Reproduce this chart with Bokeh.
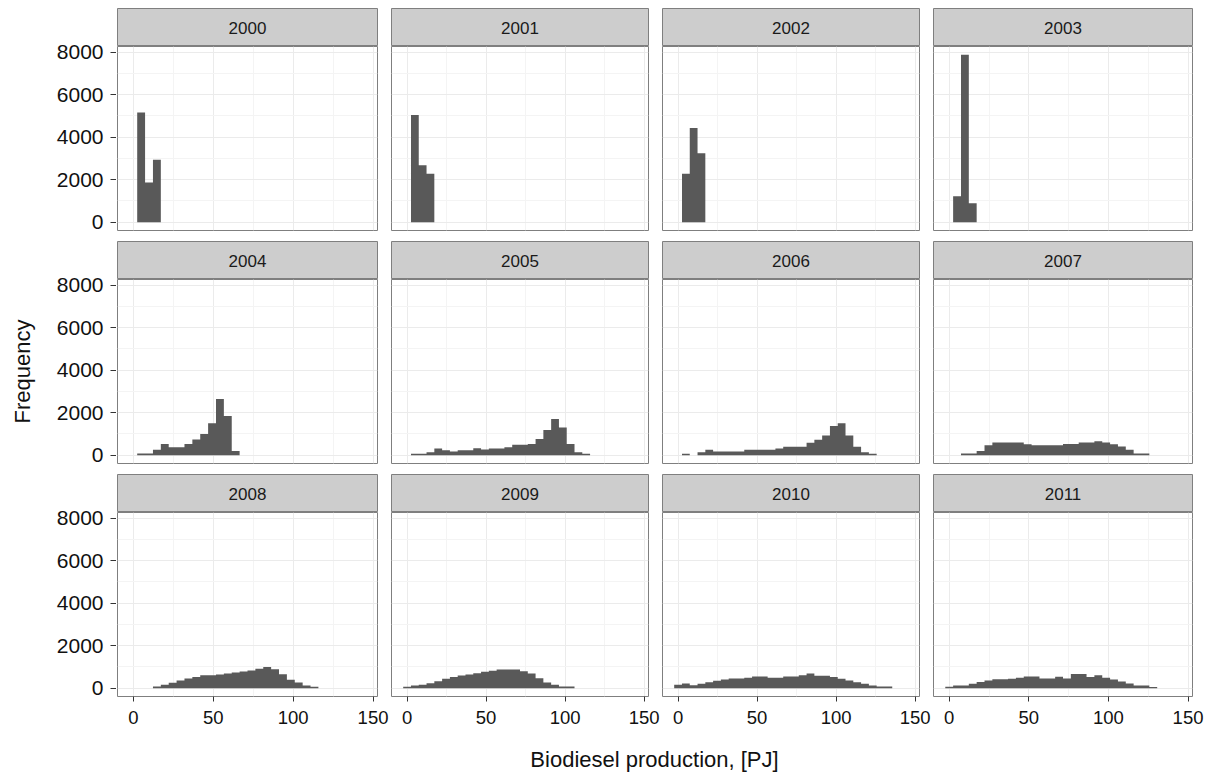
import math
from bokeh.plotting import figure
from bokeh.layouts import row, column
from bokeh.models import Range1d, FixedTicker
from bokeh.core.properties import value
from bokeh.embed import file_html
from bokeh.resources import INLINE

# ---------------- data (histogram counts per year, bin 0 first) ----------------
years = [2000, 2001, 2002, 2003, 2004, 2005, 2006, 2007, 2008, 2009, 2010, 2011]
bin_start = -2.5
bin_width = 4.93
n_bins = 30

counts_2000 = [0, 5160, 1870, 2940]
counts_2001 = [0, 5050, 2680, 2280]
counts_2002 = [0, 2280, 4440, 3250]
counts_2003 = [0, 1220, 7880, 890]
counts_2004 = [0, 80, 80, 250, 530, 375, 375, 530, 735, 1000, 1500, 2640, 1840, 200]
counts_2005 = [0, 60, 60, 140, 310, 235, 170, 235, 235, 330, 265, 310, 310, 375, 485,
               485, 530, 765, 1190, 1700, 1300, 530, 140, 60]
counts_2006 = [0, 60, 0, 140, 250, 170, 170, 170, 170, 250, 250, 250, 250, 310, 390,
               390, 390, 580, 720, 920, 1375, 1500, 920, 390, 140, 60]
counts_2007 = [0, 0, 80, 80, 190, 470, 595, 595, 595, 595, 515, 470, 470, 470, 470,
               530, 530, 595, 595, 655, 595, 515, 405, 250, 80, 80]
counts_2008 = [0, 0, 0, 80, 155, 250, 360, 455, 520, 610, 610, 640, 690, 735, 785,
               830, 910, 1000, 895, 660, 390, 265, 125, 60]
counts_2009 = [60, 125, 155, 235, 330, 440, 520, 595, 640, 705, 770, 815, 880, 880,
               880, 800, 690, 470, 265, 155, 80, 80]
counts_2010 = [155, 220, 140, 205, 280, 345, 410, 455, 455, 485, 550, 550, 485, 485,
               550, 550, 610, 690, 580, 580, 520, 440, 360, 280, 205, 125, 80, 80]
counts_2011 = [70, 130, 130, 210, 285, 360, 420, 420, 440, 495, 550, 550, 455, 455,
               535, 450, 665, 665, 530, 605, 495, 410, 315, 220, 130, 130, 55]

all_counts = [counts_2000, counts_2001, counts_2002, counts_2003, counts_2004,
              counts_2005, counts_2006, counts_2007, counts_2008, counts_2009,
              counts_2010, counts_2011]

x_ticks = [0, 50, 100, 150]
x_minor = [25, 75, 125]
y_ticks = [0, 2000, 4000, 6000, 8000]
y_minor = [1000, 3000, 5000, 7000]

x_title = "Biodiesel production, [PJ]"
y_title = "Frequency"

# ---------------- style ----------------
FONT = "Liberation Sans"
BAR = "#595959"
STRIP_FILL = "#cdcdcd"
BORDER = "#7f7f7f"
GRID_MAJOR = "#ebebeb"
GRID_MINOR = "#f4f4f4"
TEXT = "#111111"
TICK = "#333333"

# ---------------- layout geometry (page origin is the window corner) ----------------
YT_W = 38                       # y-title strip
YA_BL = 77                      # y-axis figure: border left (labels), frame 1px
COLS = [(1, 260, 13), (1, 257, 13), (1, 257, 13), (1, 259, 13)]  # border_left, frame, border_right
FRAME_H = 184
GAP = 11
AXIS_B = 36
STRIP_H = 38
TOP_PAD = 8
ROW_TOP = [STRIP_H + TOP_PAD, STRIP_H, STRIP_H]
ROW_BOT = [GAP, GAP, AXIS_B]
GRID_H = sum(t + FRAME_H + b for t, b in zip(ROW_TOP, ROW_BOT))
TOTAL_W = YT_W + YA_BL + 1 + sum(b + f + r for b, f, r in COLS)
TOTAL_H = 773

# ranges (ggplot-like 5% expansion)
x_lo = bin_start
x_hi = bin_start + n_bins * bin_width
x_pad = 0.05 * (x_hi - x_lo)
y_max = max(max(c) for c in all_counts)
y_pad = 0.05 * y_max
xr = Range1d(x_lo - x_pad, x_hi + x_pad)
yr = Range1d(-y_pad, y_max + y_pad)

xt = FixedTicker(ticks=x_ticks, minor_ticks=x_minor)
yt = FixedTicker(ticks=y_ticks, minor_ticks=y_minor)


def style_axis(ax, fs, standoff):
    ax.axis_line_color = None
    ax.major_tick_line_color = TICK
    ax.major_tick_line_width = 1
    ax.major_tick_out = 5
    ax.minor_tick_line_color = None
    ax.major_label_text_font = FONT
    ax.major_label_text_font_size = fs
    ax.major_label_text_color = TEXT
    ax.major_label_standoff = standoff


def make_yaxis(r):
    h = ROW_TOP[r] + FRAME_H + ROW_BOT[r]
    a = figure(width=YA_BL + 1, height=h, x_range=Range1d(0, 1), y_range=yr,
               x_axis_location=None, output_backend="svg", toolbar_location=None,
               min_border=0, min_border_left=YA_BL, min_border_right=0,
               min_border_top=ROW_TOP[r], min_border_bottom=ROW_BOT[r])
    a.grid.visible = False
    a.outline_line_color = None
    a.background_fill_color = "white"
    a.border_fill_color = "white"
    a.yaxis.ticker = yt
    style_axis(a.yaxis, "21px", 7)
    a.yaxis.major_tick_in = 1
    return a


def make_strip(year, col, r):
    bl, fw, br = COLS[col]
    top = ROW_TOP[r] - STRIP_H
    s = figure(width=bl + fw + br, height=ROW_TOP[r],
               x_range=Range1d(0, 1), y_range=Range1d(0, 1),
               x_axis_location=None, y_axis_location=None,
               output_backend="svg", toolbar_location=None,
               min_border=0, min_border_left=bl, min_border_right=br,
               min_border_top=top, min_border_bottom=0)
    s.grid.visible = False
    s.background_fill_color = STRIP_FILL
    s.border_fill_color = "white"
    s.outline_line_color = BORDER
    s.outline_line_width = 1
    s.text(x=[0.5], y=[0.5], text=[str(year)], text_align="center",
           text_baseline="middle", text_font=value(FONT), text_font_size="17px",
           text_color="#1a1a1a")
    return s


def make_panel(counts, col, r):
    bl, fw, br = COLS[col]
    bottom = ROW_BOT[r]
    p = figure(width=bl + fw + br, height=FRAME_H + bottom,
               x_range=xr, y_range=yr, y_axis_location=None,
               output_backend="svg", toolbar_location=None,
               min_border=0, min_border_left=bl, min_border_right=br,
               min_border_top=0, min_border_bottom=bottom)
    p.background_fill_color = "white"
    p.border_fill_color = "white"
    p.outline_line_color = BORDER
    p.outline_line_width = 1

    p.xaxis.ticker = xt
    p.xgrid.ticker = xt
    p.ygrid.ticker = yt
    for g in (p.xgrid, p.ygrid):
        g.grid_line_color = GRID_MAJOR
        g.grid_line_width = 1
        g.minor_grid_line_color = GRID_MINOR
        g.minor_grid_line_width = 1

    style_axis(p.xaxis, "18.5px", 9)
    p.xaxis.major_tick_in = 0
    p.xaxis.visible = (r == 2)

    # histogram drawn as one step outline (no seams between adjacent bins)
    xs, ys = [bin_start], [0]
    for i, c in enumerate(counts):
        left = bin_start + i * bin_width
        xs += [left, left + bin_width]
        ys += [c, c]
    xs.append(bin_start + len(counts) * bin_width)
    ys.append(0)
    p.patch(xs, ys, fill_color=BAR, line_color=None)
    return p


grid_rows = []
for r in range(3):
    strips = []
    panels = []
    for c in range(4):
        k = r * 4 + c
        strips.append(make_strip(years[k], c, r))
        panels.append(make_panel(all_counts[k], c, r))
    block = column(row(*strips, spacing=0), row(*panels, spacing=0), spacing=0)
    grid_rows.append(row(make_yaxis(r), block, spacing=0))
grid = column(*grid_rows, spacing=0)

# y-axis title
yt_fig = figure(width=YT_W, height=GRID_H, x_range=Range1d(0, YT_W),
                y_range=Range1d(GRID_H, 0), x_axis_location=None, y_axis_location=None,
                output_backend="svg", toolbar_location=None, min_border=0)
yt_fig.grid.visible = False
yt_fig.outline_line_color = None
y_center = (ROW_TOP[0] + (GRID_H - AXIS_B)) / 2.0
yt_fig.text(x=[22], y=[y_center], text=[y_title], angle=math.pi / 2,
            text_align="center", text_baseline="middle", text_font=value(FONT),
            text_font_size="22px", text_color=TEXT)

# x-axis title
XT_H = TOTAL_H - GRID_H
xt_fig = figure(width=TOTAL_W, height=XT_H, x_range=Range1d(0, TOTAL_W),
                y_range=Range1d(XT_H, 0), x_axis_location=None, y_axis_location=None,
                output_backend="svg", toolbar_location=None, min_border=0)
xt_fig.grid.visible = False
xt_fig.outline_line_color = None
x_center = YT_W + YA_BL + 1 + (TOTAL_W - YT_W - YA_BL - 1 - COLS[3][2]) / 2.0
xt_fig.text(x=[x_center], y=[XT_H - 14], text=[x_title], text_align="center",
            text_baseline="middle", text_font=value(FONT), text_font_size="22px",
            text_color=TEXT)

layout = column(row(yt_fig, grid, spacing=0), xt_fig, spacing=0)

open("out.html", "w").write(file_html(layout, INLINE))
